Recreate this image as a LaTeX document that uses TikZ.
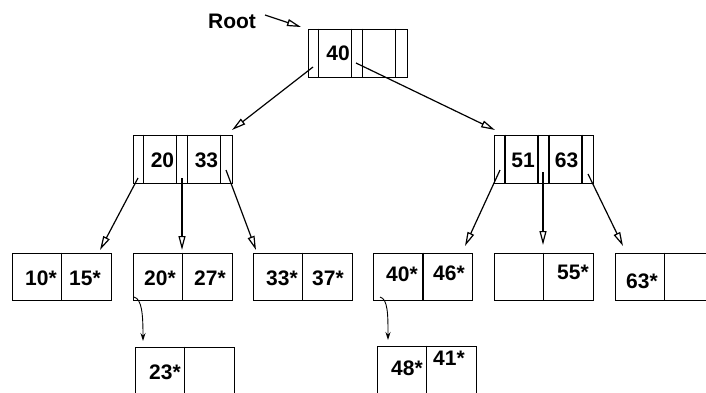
\documentclass[tikz,border=0pt]{standalone}
\usepackage{fontspec}
\setmainfont{Liberation Sans}
\usetikzlibrary{arrows.meta}
\begin{document}
\begin{tikzpicture}[x=1pt,y=-1pt,
    idxbox/.style={draw,line width=1pt,minimum width=99pt,minimum height=48pt,inner sep=0pt},
    leafbox/.style={draw,line width=1pt,minimum width=99pt,minimum height=47pt,inner sep=0pt},
    key/.style={font=\fontsize{21}{21}\selectfont\bfseries,inner sep=0pt},
    ptr/.style={line width=1.2pt,-{Triangle[open,length=14pt,width=7pt]}},
    nxt/.style={line width=0.9pt,-{Stealth[length=8pt,width=5pt]}}]
      \useasboundingbox (0,0) rectangle (706,392);
      \clip (0,0) rectangle (706,392);
      \draw
        (357.5,53) node[idxbox] (root){}
        (182.5,159) node[idxbox] (il){}
        (544,159) node[idxbox] (ir){}
        (61.5,276.5) node[leafbox] (l1){}
        (182.5,276.5) node[leafbox] (l2){}
        (302.5,276.5) node[leafbox] (l3){}
        (423,276.5) node[leafbox] (l4){}
        (543.5,276.5) node[leafbox] (l5){}
        (664.5,276.5) node[leafbox] (l6){}
        (184.5,370.5) node[leafbox] (l7){}
        (426.5,369.5) node[leafbox] (l8){};
      \foreach \n in {root,il,ir}
        \foreach \dx in {11,44,55,88}
          \draw[line width=1.6pt] ([xshift=\dx pt]\n.north west) -- ([xshift=\dx pt]\n.south west);
      \foreach \n in {l1,l2,l3,l4,l5,l6,l7,l8}
        \draw[line width=1.6pt] (\n.north) -- (\n.south);
      \draw
        (232,21) node[key] (rootlbl){Root}
        (338,53) node[key] (k40){40}
        (162.5,160) node[key] (k20){20}
        (206.5,160) node[key] (k33){33}
        (523,160) node[key] (k51){51}
        (566.5,160) node[key] (k63){63}
        (41,278) node[key] (k10s){10*}
        (85,278) node[key] (k15s){15*}
        (160,278) node[key] (k20s){20*}
        (210,278) node[key] (k27s){27*}
        (282,278) node[key] (k33s){33*}
        (328,278) node[key] (k37s){37*}
        (402,274) node[key] (k40s){40*}
        (449,273) node[key] (k46s){46*}
        (573,272) node[key] (k55s){55*}
        (642,281) node[key] (k63s){63*}
        (165,372) node[key] (k23s){23*}
        (407,368) node[key] (k48s){48*}
        (449,358) node[key] (k41s){41*};
      \coordinate (rs) at (265,15);
      \coordinate (re) at (301,27);
      \coordinate (p-root-0) at (313,67);
      \coordinate (p-root-1) at (356,63);
      \coordinate (t-il) at (232,130);
      \coordinate (t-ir) at (495,130);
      \coordinate (p-il-0) at (138,178);
      \coordinate (p-il-1) at (182,178);
      \coordinate (p-il-2) at (226,170);
      \coordinate (t-l1) at (100,250);
      \coordinate (t-l2) at (182,250);
      \coordinate (t-l3) at (256,250);
      \coordinate (p-ir-0) at (500,170);
      \coordinate (p-ir-1) at (543,172);
      \coordinate (p-ir-2) at (588,174);
      \coordinate (t-l4) at (465,246);
      \coordinate (t-l5) at (543,245);
      \coordinate (t-l6) at (623,246);
      \coordinate (n-l2) at (134,297);
      \coordinate (t-l7) at (143,341);
      \coordinate (n-l4) at (380,297);
      \coordinate (t-l8) at (388,340);
      \begin{scope}[ptr]
        \draw (rs) to (re);
        \draw (p-root-0) to (t-il);
        \draw (p-root-1) to (t-ir);
        \draw (p-il-0) to (t-l1);
        \draw (p-il-1) to (t-l2);
        \draw (p-il-2) to (t-l3);
        \draw (p-ir-0) to (t-l4);
        \draw (p-ir-1) to (t-l5);
        \draw (p-ir-2) to (t-l6);
      \end{scope}
      \begin{scope}[nxt]
        \draw (n-l2) .. controls (142,299) and (143,315) .. (t-l7);
        \draw (n-l4) .. controls (388,299) and (388,315) .. (t-l8);
      \end{scope}
    \end{tikzpicture}
\end{document}
